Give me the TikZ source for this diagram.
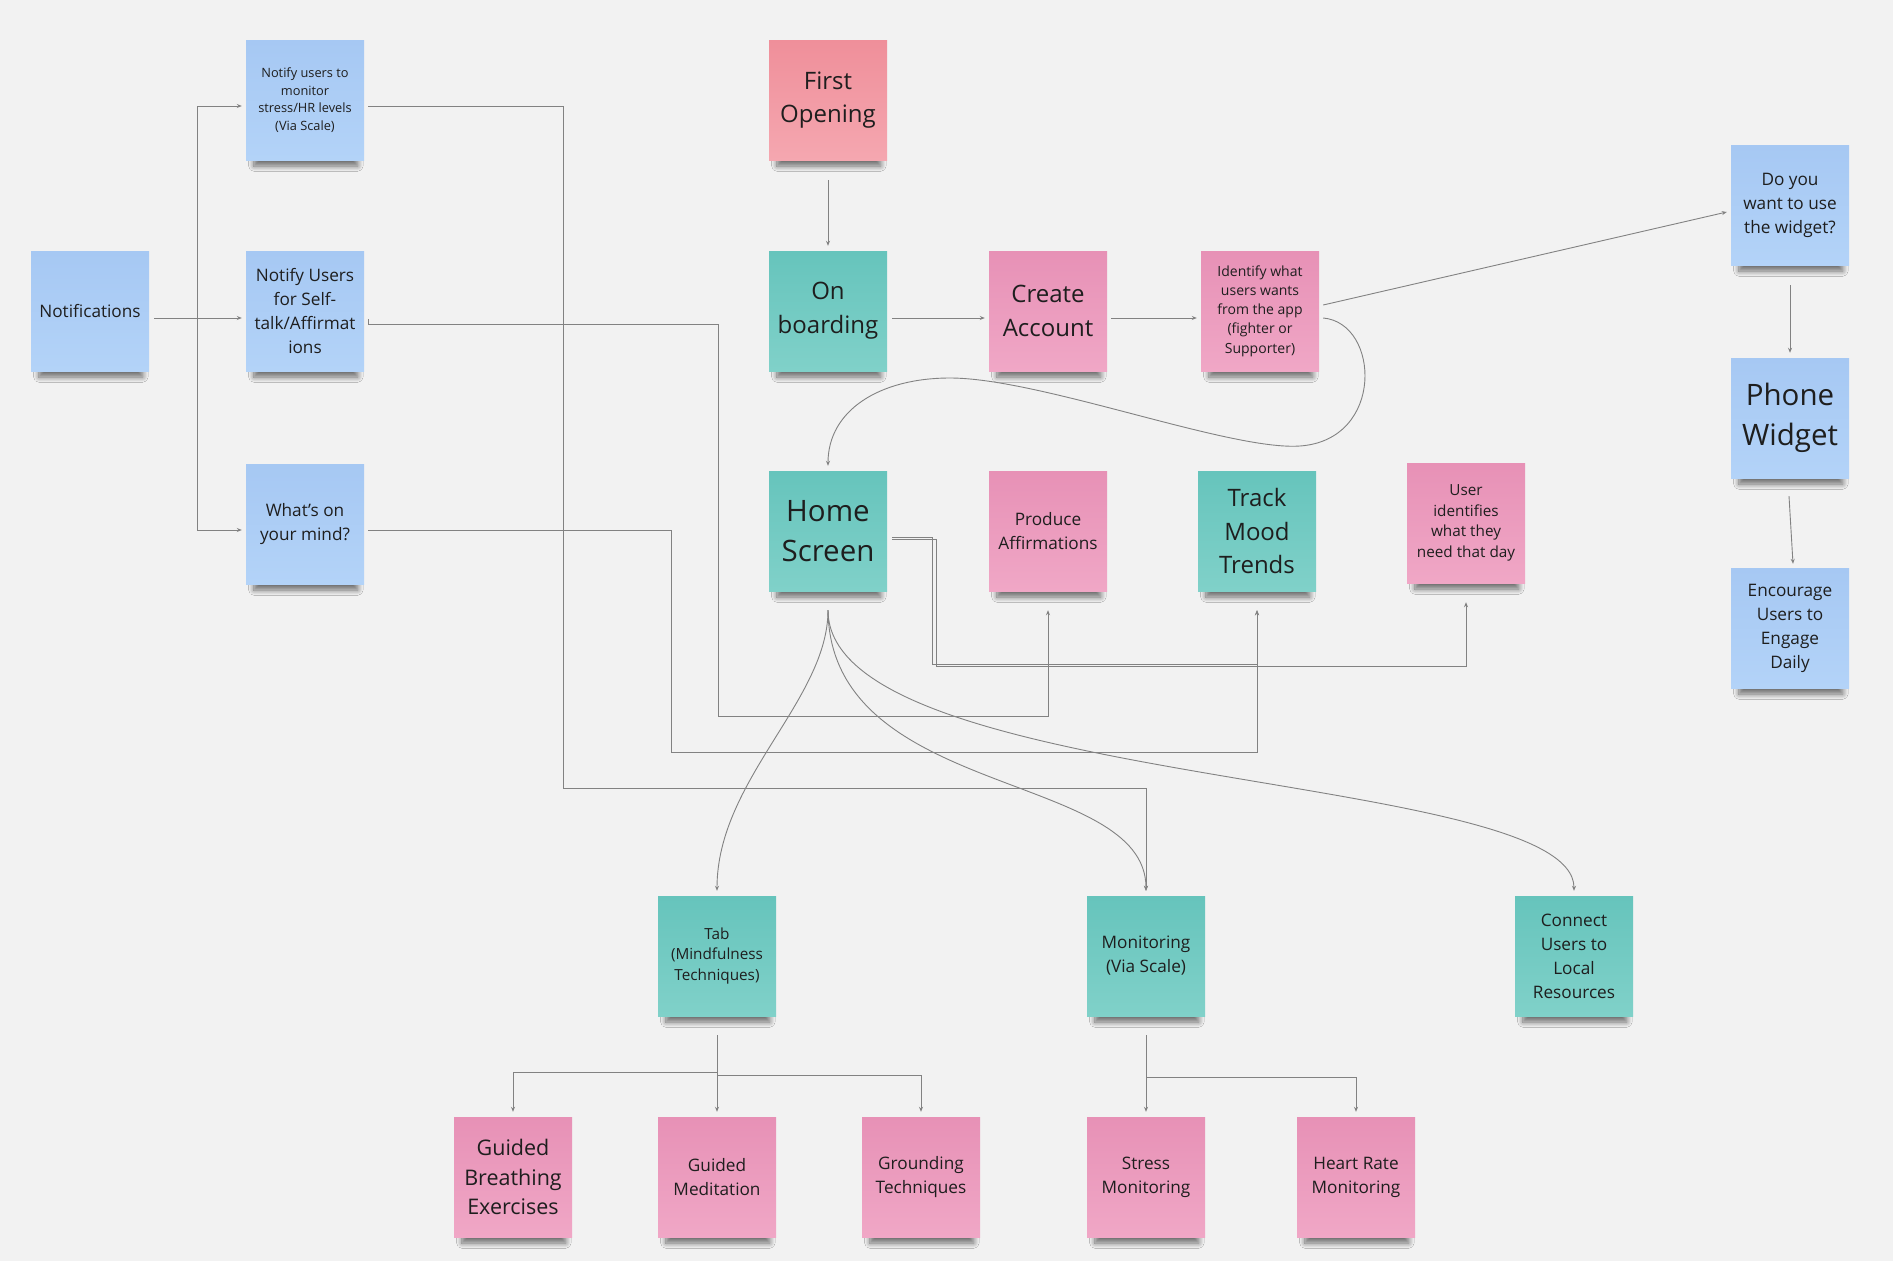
\documentclass[tikz,border=0pt]{standalone}
\usepackage{fontspec}
\setmainfont{Open Sans}
\usepackage{xcolor}
\usepackage{tikz}
\usetikzlibrary{arrows.meta,shadows.blur}
\definecolor{board_bg}{RGB}{242,242,242}
\definecolor{link_grey}{RGB}{130,130,130}
\definecolor{note_text}{RGB}{30,30,30}
\definecolor{blue_top}{RGB}{166,200,243}
\definecolor{blue_bot}{RGB}{179,211,248}
\definecolor{teal_top}{RGB}{102,196,188}
\definecolor{teal_bot}{RGB}{128,209,201}
\definecolor{pink_top}{RGB}{231,145,182}
\definecolor{pink_bot}{RGB}{240,167,198}
\definecolor{salmon_top}{RGB}{239,143,154}
\definecolor{salmon_bot}{RGB}{245,167,176}

\begin{document}
\begin{tikzpicture}[x=1pt,y=-1pt,
          note/.style={minimum width=118pt, minimum height=120pt, inner sep=0pt,
                       align=center, text=note_text,
                       blur shadow={shadow xshift=1pt, shadow yshift=-15pt,
                                    shadow scale=0.88, shadow blur radius=6pt,
                                    shadow blur steps=10, shadow opacity=55}},
          bluenote/.style={note, top color=blue_top, bottom color=blue_bot},
          tealnote/.style={note, top color=teal_top, bottom color=teal_bot},
          pinknote/.style={note, top color=pink_top, bottom color=pink_bot},
          salmonnote/.style={note, top color=salmon_top, bottom color=salmon_bot},
          txtxs/.style={font=\fontsize{12.8}{17.7}\selectfont},
          txtid/.style={font=\fontsize{14}{19.3}\selectfont},
          txts/.style={font=\fontsize{15.3}{20.7}\selectfont},
          txtm/.style={font=\fontsize{17.2}{24}\selectfont},
          txtb/.style={font=\fontsize{21.5}{29.6}\selectfont},
          txtl/.style={font=\fontsize{24}{33.8}\selectfont},
          txtxl/.style={font=\fontsize{29.5}{40}\selectfont},
          link/.style={draw=link_grey, line width=0.9pt},
          conn/.style={link, -{Stealth[length=5pt,width=4pt]}}]
        \useasboundingbox (0,0) rectangle (1893,1261);
        \fill[board_bg] (0,0) rectangle (1893,1261);

        % notifications column
        \node[bluenote,txtm] (notif) at (90,311)  {Notifications};
        \node[bluenote,txtxs] (nmon) at (305,100) {Notify users to\\monitor\\stress/HR levels\\(Via Scale)};
        \node[bluenote,txtm] (nself) at (305,311) {Notify Users\\for Self-\\talk/Affirmat\\ions};
        \node[bluenote,txtm] (nmind) at (305,524) {What's on\\your mind?};

        % onboarding flow
        \node[salmonnote,txtl] (first) at (828,100)  {First\\Opening};
        \node[tealnote,txtl]   (onb)   at (828,311)  {On\\boarding};
        \node[pinknote,txtl]   (create) at (1048,311) {Create\\Account};
        \node[pinknote,txtid]  (ident) at (1260,311) {Identify what\\users wants\\from the app\\(fighter or\\Supporter)};

        % widget column
        \node[bluenote,txtm]  (widgetq)   at (1790,205) {Do you\\want to use\\the widget?};
        \node[bluenote,txtxl] (phone)     at (1790,418) {Phone\\Widget};
        \node[bluenote,txtm]  (encourage) at (1790,628) {Encourage\\Users to\\Engage\\Daily};

        % home row
        \node[tealnote,txtxl] (home)    at (828,531)  {Home\\Screen};
        \node[pinknote,txtm]  (produce) at (1048,531) {Produce\\Affirmations};
        \node[tealnote,txtl]  (track)   at (1257,531) {Track\\Mood\\Trends};
        \node[pinknote,txts]  (useri)   at (1466,523) {User\\identifies\\what they\\need that day};

        % features
        \node[tealnote,txts] (tab)     at (717,956)  {Tab\\(Mindfulness\\Techniques)};
        \node[tealnote,txtm] (monit)   at (1146,956) {Monitoring\\(Via Scale)};
        \node[tealnote,txtm] (connect) at (1574,956) {Connect\\Users to\\Local\\Resources};

        \node[pinknote,txtb] (breath) at (513,1177)  {Guided\\Breathing\\Exercises};
        \node[pinknote,txtm] (medit)  at (717,1177)  {Guided\\Meditation};
        \node[pinknote,txtm] (ground) at (921,1177)  {Grounding\\Techniques};
        \node[pinknote,txtm] (stress) at (1146,1177) {Stress\\Monitoring};
        \node[pinknote,txtm] (heart)  at (1356,1177) {Heart Rate\\Monitoring};

        % notification fan
        \draw[link] ([xshift=5pt,yshift=-7pt]notif.east) -- ++(43,0) coordinate (ntrunk);
        \draw[conn] (ntrunk) |- ([xshift=-4pt,yshift=-6pt]nmon.west);
        \draw[conn] (ntrunk) -- ([xshift=-4pt,yshift=-7pt]nself.west);
        \draw[conn] (ntrunk) |- ([xshift=-4pt,yshift=-6pt]nmind.west);

        % notifications to features
        \draw[conn] ([xshift=4pt,yshift=-6pt]nmon.east) -| (563,788) -| ([yshift=5pt]monit.north);
        \draw[conn] ([xshift=4pt,yshift=-8pt]nself.east) -- ++(0,5) -| (718,716) -| ([yshift=-19pt]produce.south);
        \draw[conn] ([xshift=4pt,yshift=-6pt]nmind.east) -| (671,752) -| ([yshift=-19pt]track.south);

        % onboarding flow
        \draw[conn] ([yshift=-20pt]first.south) -- ([yshift=5pt]onb.north);
        \draw[conn] ([xshift=5pt,yshift=-7pt]onb.east) -- ([xshift=-4pt,yshift=-7pt]create.west);
        \draw[conn] ([xshift=4pt,yshift=-7pt]create.east) -- ([xshift=-4pt,yshift=-7pt]ident.west);
        \draw[conn] ([xshift=4pt,yshift=6pt]ident.east) -- ([xshift=-4pt,yshift=-7pt]widgetq.west);
        \draw[conn] ([xshift=4pt,yshift=-7pt]ident.east) .. controls (1380,323) and (1385,440) .. (1300,446)
          .. controls (1230,451) and (1040,378) .. (950,378)
          .. controls (880,378) and (828,410) .. ([yshift=5pt]home.north);

        % widget
        \draw[conn] ([yshift=-20pt]widgetq.south) -- ([yshift=5pt]phone.north);
        \draw[conn] ([xshift=-1pt,yshift=-18pt]phone.south) -- ([xshift=3pt,yshift=4pt]encourage.north);

        % home screen
        \draw[conn] ([xshift=5pt,yshift=-6pt]home.east) -| (932,664) -| ([yshift=-19pt]track.south);
        \draw[conn] ([xshift=5pt,yshift=-8pt]home.east) -| (936,666) -| ([yshift=-19pt]useri.south);
        \draw[conn] ([yshift=-19pt]home.south) .. controls (828,700) and (717,780) .. ([yshift=5pt]tab.north);
        \draw[conn] ([yshift=-19pt]home.south) .. controls (830,800) and (1146,770) .. ([yshift=5pt]monit.north);
        \draw[conn] ([yshift=-19pt]home.south) .. controls (828,790) and (1574,770) .. ([yshift=5pt]connect.north);

        % mindfulness tab
        \draw[conn] ([yshift=-19pt]tab.south) -- ++(0,37) -| ([yshift=5pt]breath.north);
        \draw[conn] ([yshift=-19pt]tab.south) -- ([yshift=5pt]medit.north);
        \draw[conn] ([yshift=-19pt]tab.south) -- ++(0,40) -| ([yshift=5pt]ground.north);

        % monitoring
        \draw[conn] ([yshift=-19pt]monit.south) -- ([yshift=5pt]stress.north);
        \draw[conn] ([yshift=-19pt]monit.south) -- ++(0,42) -| ([yshift=5pt]heart.north);
      \end{tikzpicture}
\end{document}
